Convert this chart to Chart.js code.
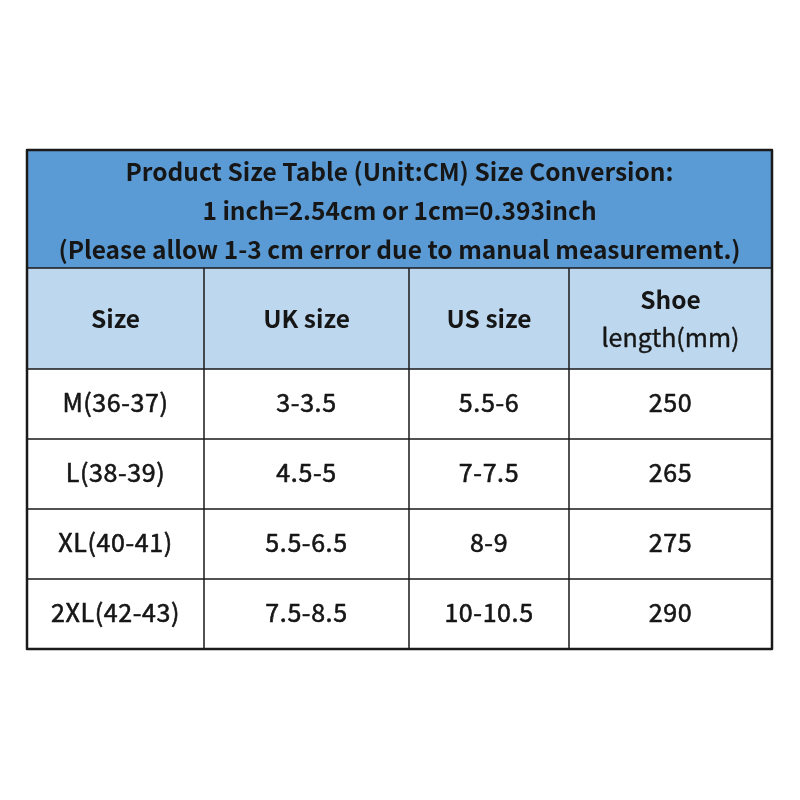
<!DOCTYPE html>
<html>
<head>
<meta charset="utf-8">
<script src="https://cdn.jsdelivr.net/npm/chart.js@4.4.1/dist/chart.umd.min.js"></script>
<style>
  html, body { margin: 0; padding: 0; background: #fff; }
  #wrap { width: 800px; height: 800px; }
</style>
</head>
<body>
<div id="wrap"><canvas id="size-table"></canvas></div>
<script>
// table content
const titleLines = [
  'Product Size Table (Unit:CM) Size Conversion:',
  '1 inch=2.54cm or 1cm=0.393inch',
  '(Please allow 1-3 cm error due to manual measurement.)'
];
const headers = [['Size'], ['UK size'], ['US size'], ['Shoe', 'length(mm)']];
const sizes = ['M(36-37)', 'L(38-39)', 'XL(40-41)', '2XL(42-43)'];
const ukSizes = ['3-3.5', '4.5-5', '5.5-6.5', '7.5-8.5'];
const usSizes = ['5.5-6', '7-7.5', '8-9', '10-10.5'];
const shoeLength = [250, 265, 275, 290];

// layout (table units)
const colWidths = [177, 205, 160, 203];
const rowHeights = [118, 101, 70, 70, 70, 70];

const FONT = '"Noto Sans CJK SC", "Noto Sans", sans-serif';
const INK = '#161616';

const edges = arr => arr.reduce((acc, w) => { acc.push(acc[acc.length - 1] + w); return acc; }, [0]);
const colEdges = edges(colWidths);
const rowEdges = edges(rowHeights);

// regular glyphs with a thin outline read as a medium weight
function text(ctx, t, cx, cy, outline) {
  ctx.fillText(t, cx, cy);
  if (outline) {
    ctx.lineWidth = outline;
    ctx.strokeText(t, cx, cy);
  }
}

const tablePlugin = {
  id: 'sizeTable',
  afterDraw(chart) {
    const { ctx, scales: { x, y } } = chart;
    const px = v => x.getPixelForValue(v);
    const py = v => y.getPixelForValue(v);
    const left = px(0), right = px(colEdges[colEdges.length - 1]);
    const top = py(0), bottom = py(rowEdges[rowEdges.length - 1]);

    ctx.save();

    // fills
    ctx.fillStyle = '#5b9bd5';
    ctx.fillRect(left, py(rowEdges[0]), right - left, py(rowEdges[1]) - py(rowEdges[0]));
    ctx.fillStyle = '#bdd7ee';
    ctx.fillRect(left, py(rowEdges[1]), right - left, py(rowEdges[2]) - py(rowEdges[1]));

    ctx.fillStyle = INK;
    ctx.strokeStyle = INK;
    ctx.lineJoin = 'round';
    ctx.textAlign = 'center';
    ctx.textBaseline = 'middle';

    // title block
    ctx.font = 'bold 24.5px ' + FONT;
    const tMid = (py(rowEdges[0]) + py(rowEdges[1])) / 2 + 2;
    titleLines.forEach((t, i) => {
      text(ctx, t, (left + right) / 2, tMid + (i - 1) * 39, 0);
    });

    // column headers
    const hMid = (py(rowEdges[1]) + py(rowEdges[2])) / 2;
    headers.forEach((lines, c) => {
      const cx = (px(colEdges[c]) + px(colEdges[c + 1])) / 2;
      lines.forEach((t, i) => {
        if (i === 0) {
          ctx.font = 'bold 24.5px ' + FONT;
          text(ctx, t, cx, hMid + (i - (lines.length - 1) / 2) * 38, 0);
        } else {
          ctx.font = '25px ' + FONT;
          text(ctx, t, cx, hMid + (i - (lines.length - 1) / 2) * 38, 0.4);
        }
      });
    });

    // body rows
    const columns = [sizes, ukSizes, usSizes, shoeLength];
    ctx.font = '25px ' + FONT;
    ctx.letterSpacing = '0.6px';
    sizes.forEach((_, r) => {
      const cy = (py(rowEdges[r + 2]) + py(rowEdges[r + 3])) / 2 - 1.5;
      columns.forEach((col, c) => {
        const cx = (px(colEdges[c]) + px(colEdges[c + 1])) / 2;
        text(ctx, String(col[r]), cx, cy, 0.6);
      });
    });
    ctx.letterSpacing = '0px';

    // inner lines
    ctx.strokeStyle = '#1a1a1a';
    ctx.lineWidth = 1.5;
    ctx.beginPath();
    for (let r = 1; r < rowEdges.length - 1; r++) {
      ctx.moveTo(left, py(rowEdges[r]));
      ctx.lineTo(right, py(rowEdges[r]));
    }
    for (let c = 1; c < colEdges.length - 1; c++) {
      ctx.moveTo(px(colEdges[c]), py(rowEdges[1]));
      ctx.lineTo(px(colEdges[c]), bottom);
    }
    ctx.stroke();

    // outer frame
    ctx.lineWidth = 2.5;
    ctx.strokeRect(left, top, right - left, bottom - top);
    ctx.restore();
  }
};

new Chart(document.getElementById('size-table'), {
  type: 'scatter',
  data: { datasets: [{ data: [] }] },
  options: {
    responsive: true,
    maintainAspectRatio: false,
    animation: false,
    layout: { padding: { left: 27, right: 28, top: 150, bottom: 151 } },
    scales: {
      x: { type: 'linear', min: 0, max: colEdges[colEdges.length - 1], display: false },
      y: { type: 'linear', min: 0, max: rowEdges[rowEdges.length - 1], reverse: true, display: false }
    },
    plugins: { legend: { display: false }, tooltip: { enabled: false } }
  },
  plugins: [tablePlugin]
});
</script>
</body>
</html>
